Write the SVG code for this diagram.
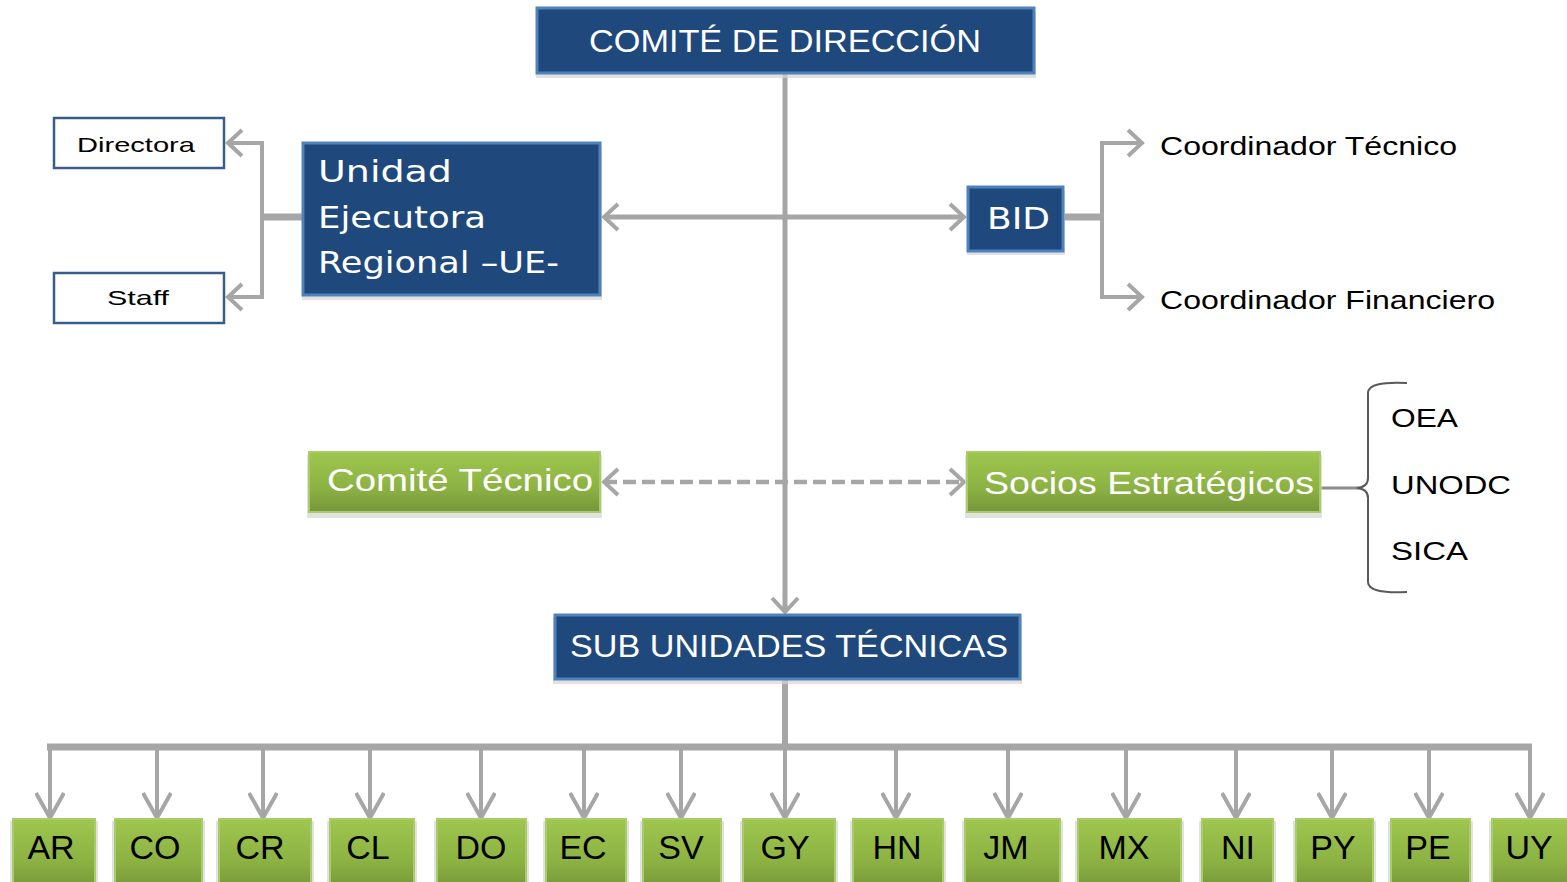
<svg xmlns="http://www.w3.org/2000/svg" width="1567" height="882" viewBox="0 0 1567 882">
<defs>
<linearGradient id="green" x1="0" y1="0" x2="0" y2="1">
<stop offset="0" stop-color="#9fc64e"/>
<stop offset="0.6" stop-color="#8cb243"/>
<stop offset="1" stop-color="#76963a"/>
</linearGradient>
<marker id="chev" viewBox="0 0 20 30" markerWidth="20" markerHeight="30" refX="17" refY="15" orient="auto-start-reverse" markerUnits="userSpaceOnUse">
<path d="M3,2 L17,15 L3,28" fill="none" stroke="#a6a6a6" stroke-width="4"/>
</marker>
<marker id="chevd" viewBox="0 0 32 30" markerWidth="32" markerHeight="30" refX="28" refY="15" orient="auto" markerUnits="userSpaceOnUse">
<path d="M3,1 L28,15 L3,29" fill="none" stroke="#a6a6a6" stroke-width="4"/>
</marker>
</defs>
<style>
.blue{fill:#1f497d;stroke:#4f81bd;stroke-width:3}
.white{fill:#ffffff;stroke:#385d8a;stroke-width:2.5}
.grn{fill:url(#green);stroke:#a8cc68;stroke-width:2}
.shd{fill:#d4d4d4;opacity:0.7}
.conn{fill:none;stroke:#a6a6a6}
.wt{fill:#ffffff;font-family:"Liberation Sans",Arial,sans-serif}
.vt{fill:#ffffff;font-family:"DejaVu Sans",Verdana,sans-serif;font-size:30px}
.bk{fill:#000000;font-family:"Liberation Sans",Arial,sans-serif}
.cc{fill:#000000;font-family:"Liberation Sans",Arial,sans-serif;font-size:34px;text-anchor:middle}
</style>
<rect width="1567" height="882" fill="#ffffff"/>

<g id="connectors">
<path class="conn" d="M785,73 V612" stroke-width="5" marker-end="url(#chev)"/>
<path class="conn" d="M604,217 H964" stroke-width="5" marker-start="url(#chev)" marker-end="url(#chev)"/>
<path class="conn" d="M604,482 H964" stroke-width="4.5" stroke-dasharray="13 6" marker-start="url(#chev)" marker-end="url(#chev)"/>
<path class="conn" d="M302,217 H262" stroke-width="7"/>
<path class="conn" d="M262,141 V299" stroke-width="4"/>
<path class="conn" d="M262,143 H228" stroke-width="4" marker-end="url(#chev)"/>
<path class="conn" d="M262,297 H228" stroke-width="4" marker-end="url(#chev)"/>
<path class="conn" d="M1064,217 H1102" stroke-width="7"/>
<path class="conn" d="M1102,141 V299" stroke-width="4"/>
<path class="conn" d="M1102,143 H1142" stroke-width="4" marker-end="url(#chev)"/>
<path class="conn" d="M1102,297 H1142" stroke-width="4" marker-end="url(#chev)"/>
<path d="M1321,488 H1358" fill="none" stroke="#8c8c8c" stroke-width="3"/>
<path d="M1407,383 Q1368,381 1368,393 L1368,478 Q1368,487 1357,488 Q1368,489 1368,498 L1368,582 Q1368,594 1407,592" fill="none" stroke="#595959" stroke-width="2"/>
<path class="conn" d="M785,679 V747" stroke-width="6"/>
<path class="conn" d="M47,747 H1532" stroke-width="7"/>
<g stroke-width="4">
<path class="conn" d="M50,747 V818" marker-end="url(#chevd)"/>
<path class="conn" d="M157,747 V818" marker-end="url(#chevd)"/>
<path class="conn" d="M263,747 V818" marker-end="url(#chevd)"/>
<path class="conn" d="M370,747 V818" marker-end="url(#chevd)"/>
<path class="conn" d="M481,747 V818" marker-end="url(#chevd)"/>
<path class="conn" d="M584,747 V818" marker-end="url(#chevd)"/>
<path class="conn" d="M681,747 V818" marker-end="url(#chevd)"/>
<path class="conn" d="M785,747 V818" marker-end="url(#chevd)"/>
<path class="conn" d="M896,747 V818" marker-end="url(#chevd)"/>
<path class="conn" d="M1008,747 V818" marker-end="url(#chevd)"/>
<path class="conn" d="M1126,747 V818" marker-end="url(#chevd)"/>
<path class="conn" d="M1236,747 V818" marker-end="url(#chevd)"/>
<path class="conn" d="M1332,747 V818" marker-end="url(#chevd)"/>
<path class="conn" d="M1429,747 V818" marker-end="url(#chevd)"/>
<path class="conn" d="M1530,747 V818" marker-end="url(#chevd)"/>
</g>
</g>

<g id="comite-direccion">
<rect class="shd" x="536" y="12" width="500" height="66"/>
<rect class="blue" x="537" y="8" width="497" height="65"/>
<text class="wt" x="589" y="52" font-size="31" textLength="392" lengthAdjust="spacingAndGlyphs">COMITÉ DE DIRECCIÓN</text>
</g>

<g id="ue">
<rect class="shd" x="302" y="147" width="300" height="153"/>
<rect class="blue" x="303" y="143" width="297" height="152"/>
<text class="vt" x="318" y="182" textLength="134" lengthAdjust="spacingAndGlyphs">Unidad</text>
<text class="vt" x="318" y="228" textLength="168" lengthAdjust="spacingAndGlyphs">Ejecutora</text>
<text class="vt" x="318" y="273" textLength="241" lengthAdjust="spacingAndGlyphs">Regional –UE-</text>
</g>

<g id="directora">
<rect class="white" x="54" y="118" width="170" height="50"/>
<text class="bk" x="77" y="152" font-size="21" textLength="118" lengthAdjust="spacingAndGlyphs">Directora</text>
</g>
<g id="staff">
<rect class="white" x="54" y="273" width="170" height="50"/>
<text class="bk" x="107" y="305" font-size="21" textLength="62" lengthAdjust="spacingAndGlyphs">Staff</text>
</g>

<g id="bid">
<rect class="shd" x="967" y="191" width="98" height="64"/>
<rect class="blue" x="968" y="187" width="95" height="64"/>
<text class="vt" x="987" y="229" textLength="63" lengthAdjust="spacingAndGlyphs">BID</text>
</g>

<g id="coord-tecnico">
<text class="bk" x="1160" y="155" font-size="26" textLength="297" lengthAdjust="spacingAndGlyphs">Coordinador  Técnico</text>
</g>
<g id="coord-financiero">
<text class="bk" x="1160" y="309" font-size="26" textLength="335" lengthAdjust="spacingAndGlyphs">Coordinador  Financiero</text>
</g>

<g id="comite-tecnico">
<rect class="shd" x="307" y="455" width="295" height="63"/>
<rect class="grn" x="309" y="452" width="291" height="60"/>
<text class="wt" x="327" y="491" font-size="32" textLength="266" lengthAdjust="spacingAndGlyphs">Comité Técnico</text>
</g>

<g id="socios">
<rect class="shd" x="965" y="455" width="357" height="63"/>
<rect class="grn" x="967" y="452" width="353" height="60"/>
<text class="wt" x="984" y="494" font-size="32" textLength="330" lengthAdjust="spacingAndGlyphs">Socios Estratégicos</text>
</g>

<g id="oea"><text class="bk" x="1391" y="427" font-size="26" textLength="67" lengthAdjust="spacingAndGlyphs">OEA</text></g>
<g id="unodc"><text class="bk" x="1391" y="494" font-size="26" textLength="120" lengthAdjust="spacingAndGlyphs">UNODC</text></g>
<g id="sica"><text class="bk" x="1391" y="560" font-size="26" textLength="77" lengthAdjust="spacingAndGlyphs">SICA</text></g>

<g id="sub-unidades">
<rect class="shd" x="553" y="618" width="469" height="66"/>
<rect class="blue" x="555" y="615" width="465" height="64"/>
<text class="wt" x="570" y="657" font-size="31" textLength="438" lengthAdjust="spacingAndGlyphs">SUB UNIDADES TÉCNICAS</text>
</g>

<g id="ar"><rect class="shd" x="10" y="821" width="88" height="70"/><rect class="grn" x="13" y="819" width="82" height="70"/><text class="cc" x="51" y="859">AR</text></g>
<g id="co"><rect class="shd" x="112" y="821" width="93" height="70"/><rect class="grn" x="115" y="819" width="87" height="70"/><text class="cc" x="155" y="859">CO</text></g>
<g id="cr"><rect class="shd" x="216" y="821" width="98" height="70"/><rect class="grn" x="219" y="819" width="92" height="70"/><text class="cc" x="260" y="859">CR</text></g>
<g id="cl"><rect class="shd" x="327" y="821" width="90" height="70"/><rect class="grn" x="330" y="819" width="84" height="70"/><text class="cc" x="368" y="859">CL</text></g>
<g id="do"><rect class="shd" x="434" y="821" width="95" height="70"/><rect class="grn" x="437" y="819" width="89" height="70"/><text class="cc" x="481" y="859">DO</text></g>
<g id="ec"><rect class="shd" x="543" y="821" width="86" height="70"/><rect class="grn" x="546" y="819" width="80" height="70"/><text class="cc" x="583" y="859">EC</text></g>
<g id="sv"><rect class="shd" x="640" y="821" width="84" height="70"/><rect class="grn" x="643" y="819" width="78" height="70"/><text class="cc" x="681" y="859">SV</text></g>
<g id="gy"><rect class="shd" x="740" y="821" width="98" height="70"/><rect class="grn" x="743" y="819" width="92" height="70"/><text class="cc" x="785" y="859">GY</text></g>
<g id="hn"><rect class="shd" x="850" y="821" width="96" height="70"/><rect class="grn" x="853" y="819" width="90" height="70"/><text class="cc" x="897" y="859">HN</text></g>
<g id="jm"><rect class="shd" x="962" y="821" width="101" height="70"/><rect class="grn" x="965" y="819" width="95" height="70"/><text class="cc" x="1006" y="859">JM</text></g>
<g id="mx"><rect class="shd" x="1075" y="821" width="109" height="70"/><rect class="grn" x="1078" y="819" width="103" height="70"/><text class="cc" x="1124" y="859">MX</text></g>
<g id="ni"><rect class="shd" x="1199" y="821" width="77" height="70"/><rect class="grn" x="1202" y="819" width="71" height="70"/><text class="cc" x="1238" y="859">NI</text></g>
<g id="py"><rect class="shd" x="1293" y="821" width="83" height="70"/><rect class="grn" x="1296" y="819" width="77" height="70"/><text class="cc" x="1333" y="859">PY</text></g>
<g id="pe"><rect class="shd" x="1388" y="821" width="85" height="70"/><rect class="grn" x="1391" y="819" width="79" height="70"/><text class="cc" x="1428" y="859">PE</text></g>
<g id="uy"><rect class="shd" x="1489" y="821" width="84" height="70"/><rect class="grn" x="1492" y="819" width="80" height="70"/><text class="cc" x="1529" y="859">UY</text></g>
</svg>
